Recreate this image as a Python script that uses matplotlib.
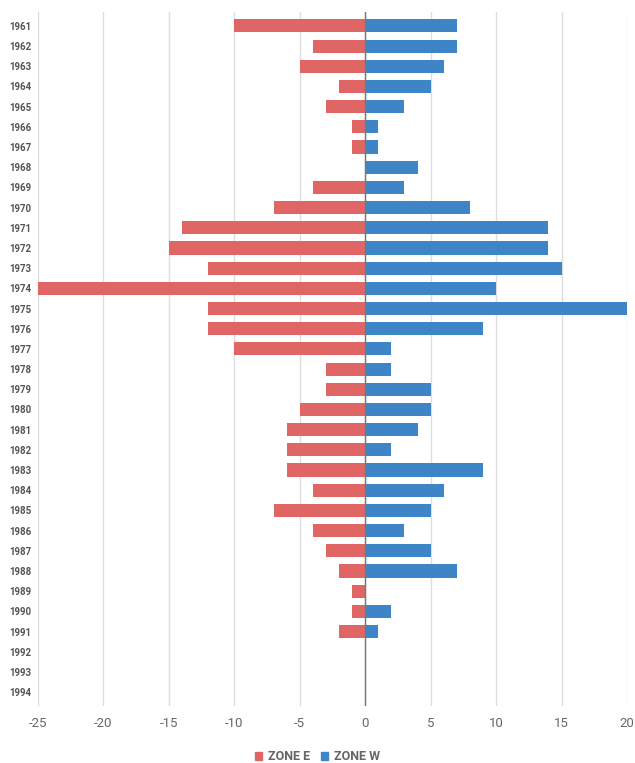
import matplotlib.pyplot as plt
import numpy as np
from matplotlib.patches import Patch

plt.rcParams['font.family'] = ['Roboto', 'DejaVu Sans']

years = [str(y) for y in range(1961, 1995)]
zone_e = [-10, -4, -5, -2, -3, -1, -1, 0, -4, -7, -14, -15, -12, -25, -12, -12, -10,
          -3, -3, -5, -6, -6, -6, -4, -7, -4, -3, -2, -1, -1, -2, 0, 0, 0]
zone_w = [7, 7, 6, 5, 3, 1, 1, 4, 3, 8, 14, 14, 15, 10, 20, 9, 2,
          2, 5, 5, 4, 2, 9, 6, 5, 3, 5, 7, 0, 2, 1, 0, 0, 0]
xticks = [-25, -20, -15, -10, -5, 0, 5, 10, 15, 20]

red = '#e06666'
blue = '#3d85c6'

fig = plt.figure(figsize=(6.35, 7.63), dpi=100)
ax = fig.add_axes([0.0598, 0.0747, 0.9276, 0.9096])

y = np.arange(len(years))
ax.barh(y, zone_e, height=0.65, color=red, zorder=2)
ax.barh(y, zone_w, height=0.65, color=blue, zorder=2)

ax.set_xlim(-25, 20)
ax.set_ylim(len(years) - 1 + 0.69, -0.69)
ax.set_xticks(xticks)
ax.set_xticklabels([str(t) for t in xticks])
ax.set_yticks(y)
ax.set_yticklabels(years)

ax.grid(axis='x', color='#dddddd', linewidth=1, zorder=0)
ax.axvline(0, color='#777777', linewidth=1, zorder=3)
for s in ax.spines.values():
    s.set_visible(False)
ax.tick_params(axis='both', length=0)
ax.tick_params(axis='y', labelsize=7, labelcolor='#555555', pad=5)
ax.tick_params(axis='x', labelsize=9.5, labelcolor='#666666', pad=8)
for lbl in ax.get_yticklabels():
    lbl.set_fontweight('bold')

handles = [Patch(color=red, label='ZONE E'), Patch(color=blue, label='ZONE W')]
leg = fig.legend(handles=handles, loc='center', bbox_to_anchor=(0.5, 0.008), ncol=2,
                 frameon=False, handlelength=0.6, handleheight=0.6, handletextpad=0.5,
                 columnspacing=0.8, prop={'size': 9, 'weight': 'bold'})
for t in leg.get_texts():
    t.set_color('#666666')

fig.savefig('out.png', dpi=100, facecolor='white')
